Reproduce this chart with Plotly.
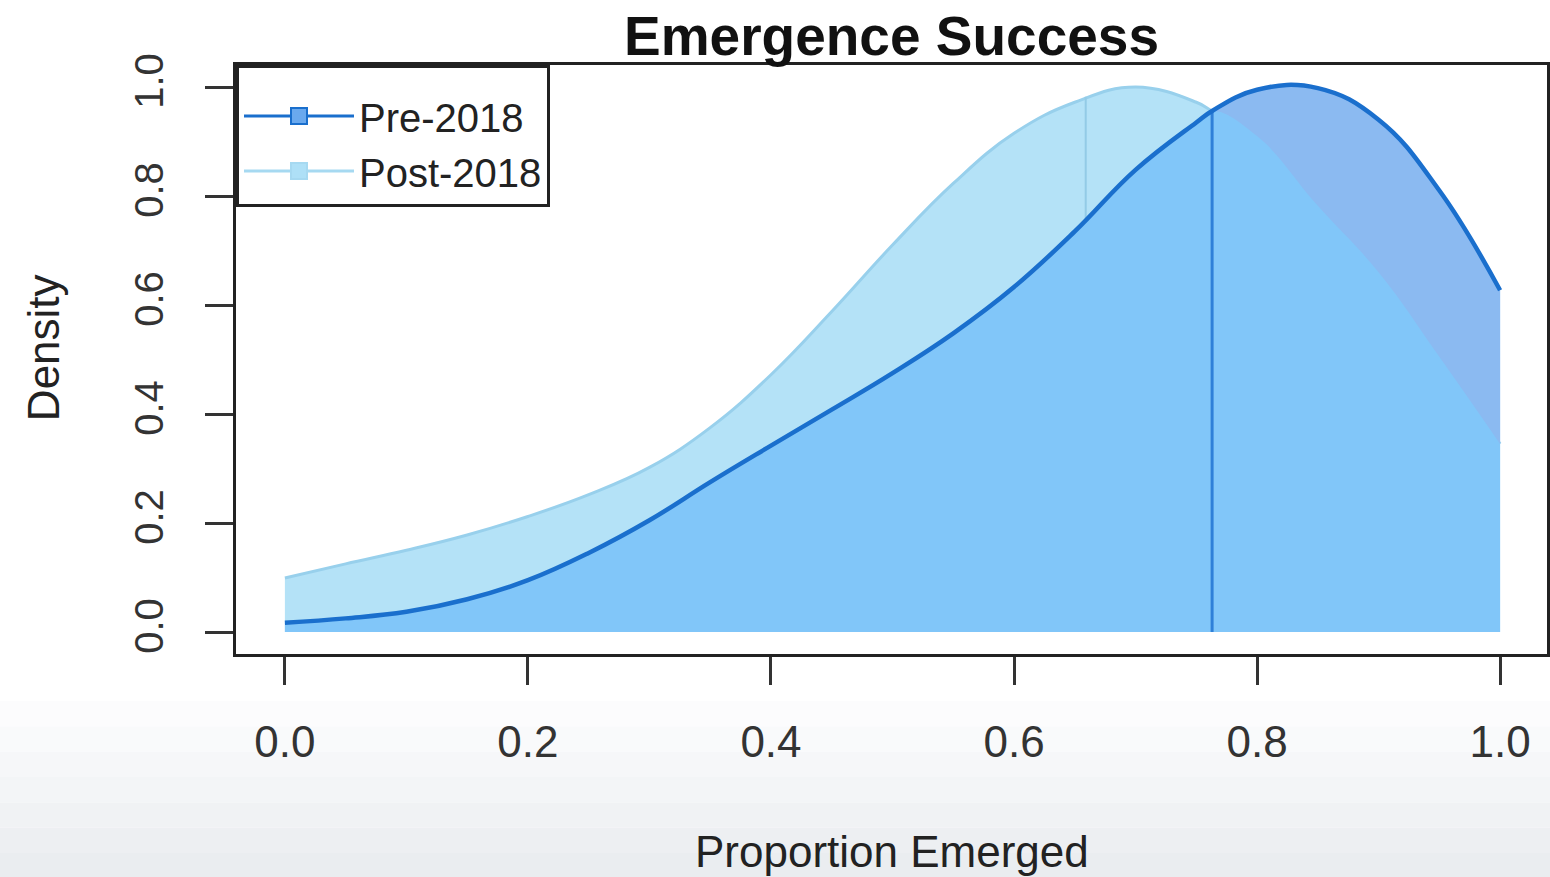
import plotly.graph_objects as go

# Density estimates of the proportion of eggs that emerged, before and after 2018
proportion = [0.00, 0.05, 0.10, 0.15, 0.20, 0.25, 0.30, 0.35, 0.40, 0.45, 0.50,
              0.55, 0.60, 0.65, 0.70, 0.75, 0.763, 0.80, 0.85, 0.90, 0.95, 1.00]
density_pre = [0.017, 0.025, 0.037, 0.060, 0.095, 0.145, 0.205, 0.275, 0.342, 0.408, 0.475,
               0.548, 0.633, 0.735, 0.848, 0.935, 0.956, 0.995, 0.998, 0.940, 0.810, 0.627]
density_post = [0.099, 0.125, 0.150, 0.178, 0.212, 0.252, 0.302, 0.375, 0.472, 0.588, 0.710,
                0.823, 0.915, 0.972, 1.000, 0.972, 0.956, 0.910, 0.782, 0.660, 0.505, 0.345]

# Central value marked for each period
pre_center = 0.763
pre_center_density = 0.956
post_center = 0.659
post_center_density = 0.982

series_names = ["Pre-2018", "Post-2018"]
x_ticks = [0.0, 0.2, 0.4, 0.6, 0.8, 1.0]
y_ticks = [0.0, 0.2, 0.4, 0.6, 0.8, 1.0]

FONT = "Liberation Sans, Arial, Helvetica, sans-serif"
POST_FILL = "#b4e2f7"
POST_LINE = "#98d0ec"
OVERLAP_FILL = "#81c6f9"
PRE_ONLY_FILL = "#8bbaf1"
PRE_LINE = "#1a6fcd"
PRE_VLINE = "#2f80d8"
SMOOTH = 1.2

lower_envelope = [min(a, b) for a, b in zip(density_pre, density_post)]

fig = go.Figure()

# Post-2018 density (drawn first, sits underneath)
fig.add_trace(go.Scatter(x=proportion, y=density_post, mode="lines", fill="tozeroy",
                         fillcolor=POST_FILL,
                         line=dict(color=POST_LINE, width=3, shape="spline", smoothing=SMOOTH),
                         showlegend=False, hoverinfo="skip"))
fig.add_trace(go.Scatter(x=[post_center, post_center], y=[0, post_center_density], mode="lines",
                         line=dict(color="#93cbe6", width=2), showlegend=False, hoverinfo="skip"))

# Pre-2018 density area: overlap part, then the part above the post-2018 curve
fig.add_trace(go.Scatter(x=proportion, y=density_pre, mode="lines", fill="tozeroy",
                         fillcolor=OVERLAP_FILL,
                         line=dict(width=0, shape="spline", smoothing=SMOOTH),
                         showlegend=False, hoverinfo="skip"))
fig.add_trace(go.Scatter(x=proportion, y=lower_envelope, mode="lines",
                         line=dict(width=0, shape="spline", smoothing=SMOOTH),
                         showlegend=False, hoverinfo="skip"))
fig.add_trace(go.Scatter(x=proportion, y=density_pre, mode="lines", fill="tonexty",
                         fillcolor=PRE_ONLY_FILL,
                         line=dict(width=0, shape="spline", smoothing=SMOOTH),
                         showlegend=False, hoverinfo="skip"))

fig.add_trace(go.Scatter(x=[pre_center, pre_center], y=[0, pre_center_density], mode="lines",
                         line=dict(color=PRE_VLINE, width=3), showlegend=False, hoverinfo="skip"))
fig.add_trace(go.Scatter(x=proportion, y=density_pre, mode="lines",
                         line=dict(color=PRE_LINE, width=4.5, shape="spline", smoothing=SMOOTH),
                         showlegend=False, hoverinfo="skip"))

# Legend keys
fig.add_trace(go.Scatter(x=[None], y=[None], mode="lines+markers", name=series_names[0],
                         line=dict(color=PRE_LINE, width=3),
                         marker=dict(symbol="square", size=34, color="#6aa9ee",
                                     line=dict(color=PRE_LINE, width=2))))
fig.add_trace(go.Scatter(x=[None], y=[None], mode="lines+markers", name=series_names[1],
                         line=dict(color="#a6d9f1", width=3),
                         marker=dict(symbol="square", size=34, color="#aee0f7",
                                     line=dict(color="#a6d9f1", width=2))))

# Soft grey wash along the bottom of the page
band_colors = ["#fcfcfd", "#f9fafb", "#f6f7f9", "#f3f5f7", "#f0f2f4", "#edeff2", "#eaedf0"]
band_top, band_step = -0.08, 0.043
shapes = []
for i, c in enumerate(band_colors):
    shapes.append(dict(type="rect", xref="paper", yref="paper", x0=-0.2, x1=1.01,
                       y0=band_top - band_step * (i + 1), y1=band_top - band_step * i,
                       fillcolor=c, line=dict(width=0), layer="below"))

axis_common = dict(showgrid=False, zeroline=False, showline=True, mirror=True,
                   linecolor="#222222", linewidth=3, ticks="outside", ticklen=28,
                   tickwidth=3, tickcolor="#333333", tickformat=".1f")

fig.update_layout(
    width=1550, height=877,
    margin=dict(l=236, r=0, t=65, b=223),
    paper_bgcolor="white", plot_bgcolor="white",
    font=dict(family=FONT, color="#222222"),
    xaxis=dict(range=[-0.04023, 1.03859], tickvals=x_ticks,
               tickfont=dict(size=44, color="#333333"), ticklabelstandoff=19, **axis_common),
    yaxis=dict(range=[-0.04037, 1.04037], tickvals=y_ticks, tickangle=-90,
               tickfont=dict(size=40, color="#333333"), ticklabelstandoff=26, **axis_common),
    legend=dict(x=0, y=1, xanchor="left", yanchor="top", bgcolor="white",
                bordercolor="#222222", borderwidth=3, font=dict(size=40, color="#222222"),
                itemwidth=110, traceorder="normal", entrywidth=250,
                title=dict(text=" ", font=dict(size=12))),
    shapes=shapes,
    annotations=[
        dict(text="<b>Emergence Success</b>", xref="paper", yref="paper", x=0.5, y=1.0,
             xanchor="center", yanchor="bottom", yshift=-4, showarrow=False,
             font=dict(size=55, color="#111111")),
        dict(text="Proportion Emerged", xref="paper", yref="paper", x=0.5, y=-0.336,
             xanchor="center", yanchor="middle", showarrow=False,
             font=dict(size=44, color="#222222")),
        dict(text="Density", xref="paper", yref="paper", x=-0.1469, y=0.52,
             xanchor="center", yanchor="middle", textangle=-90, showarrow=False,
             font=dict(size=44, color="#222222")),
    ],
)

fig.write_html("out.html")
